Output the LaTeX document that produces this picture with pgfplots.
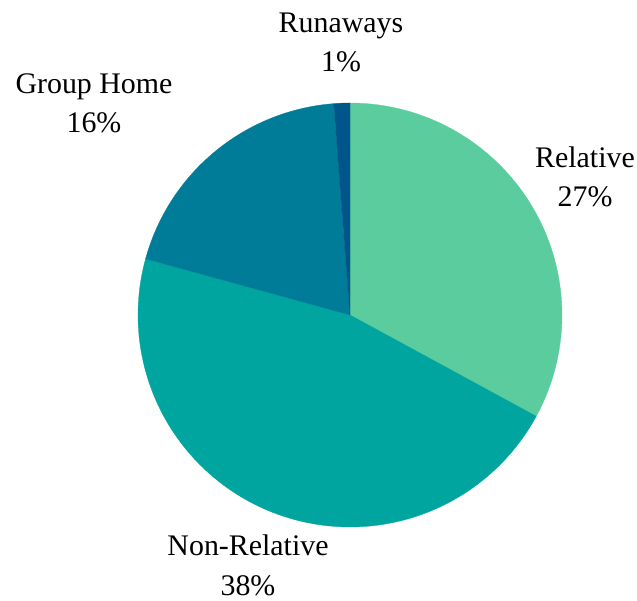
\documentclass[border=0pt]{standalone}
\usepackage{pgfplots}
\pgfplotsset{compat=1.18}
\usepackage{pgfplotstable}
\usepackage{fontspec}
\setmainfont{Liberation Serif}

\definecolor{cRel}{HTML}{5BCC9E}
\definecolor{cNon}{HTML}{00A5A0}
\definecolor{cGrp}{HTML}{007C99}
\definecolor{cRun}{HTML}{00568A}

% anchor=base sits on the last line of a two-line label
\tikzset{lbl/.style={font=\fontsize{30}{40}\selectfont, align=center, anchor=base, text=black, inner sep=0pt}}

% placement share (%)
\pgfplotstableread{
id value
rel 27
non 38
grp 16
run 1
}\piedata

\begin{document}
\begin{tikzpicture}
\pgfplotstablegetelem{0}{value}\of\piedata \let\vA\pgfplotsretval
\pgfplotstablegetelem{1}{value}\of\piedata \let\vB\pgfplotsretval
\pgfplotstablegetelem{2}{value}\of\piedata \let\vC\pgfplotsretval
\pgfplotstablegetelem{3}{value}\of\piedata \let\vD\pgfplotsretval
\pgfmathsetmacro\tot{\vA+\vB+\vC+\vD}
% slices run clockwise from 12 o'clock
\pgfmathsetmacro\aA{90}
\pgfmathsetmacro\aB{\aA-360*\vA/\tot}
\pgfmathsetmacro\aC{\aB-360*\vB/\tot}
\pgfmathsetmacro\aD{\aC-360*\vC/\tot}
\pgfmathsetmacro\aE{\aD-360*\vD/\tot}
\begin{axis}[
    width=637bp, height=601bp,
    scale only axis,
    xmin=0, xmax=637, ymin=0, ymax=601,
    hide axis,
    clip=false,
]
\path (axis cs:0,0) rectangle (axis cs:637,601);
\addplot[fill=cRel, draw=cRel, line width=0.3pt, domain=\aB:\aA, samples=90, variable=\t]
    ({350+212*cos(\t)},{286+212*sin(\t)}) -- (axis cs:350,286) -- cycle;
\addplot[fill=cNon, draw=cNon, line width=0.3pt, domain=\aC:\aB, samples=120, variable=\t]
    ({350+212*cos(\t)},{286+212*sin(\t)}) -- (axis cs:350,286) -- cycle;
\addplot[fill=cGrp, draw=cGrp, line width=0.3pt, domain=\aD:\aC, samples=60, variable=\t]
    ({350+212*cos(\t)},{286+212*sin(\t)}) -- (axis cs:350,286) -- cycle;
\addplot[fill=cRun, draw=cRun, line width=0.3pt, domain=\aE:\aD, samples=10, variable=\t]
    ({350+212*cos(\t)},{286+212*sin(\t)}) -- (axis cs:350,286) -- cycle;

\node[lbl] at (axis cs:585,394) {Relative\\\vA\%};
\node[lbl] at (axis cs:248,6) {Non-Relative\\\vB\%};
\node[lbl] at (axis cs:94,468) {Group Home\\\vC\%};
\node[lbl] at (axis cs:341,529) {Runaways\\\vD\%};
\end{axis}
\end{tikzpicture}
\end{document}
